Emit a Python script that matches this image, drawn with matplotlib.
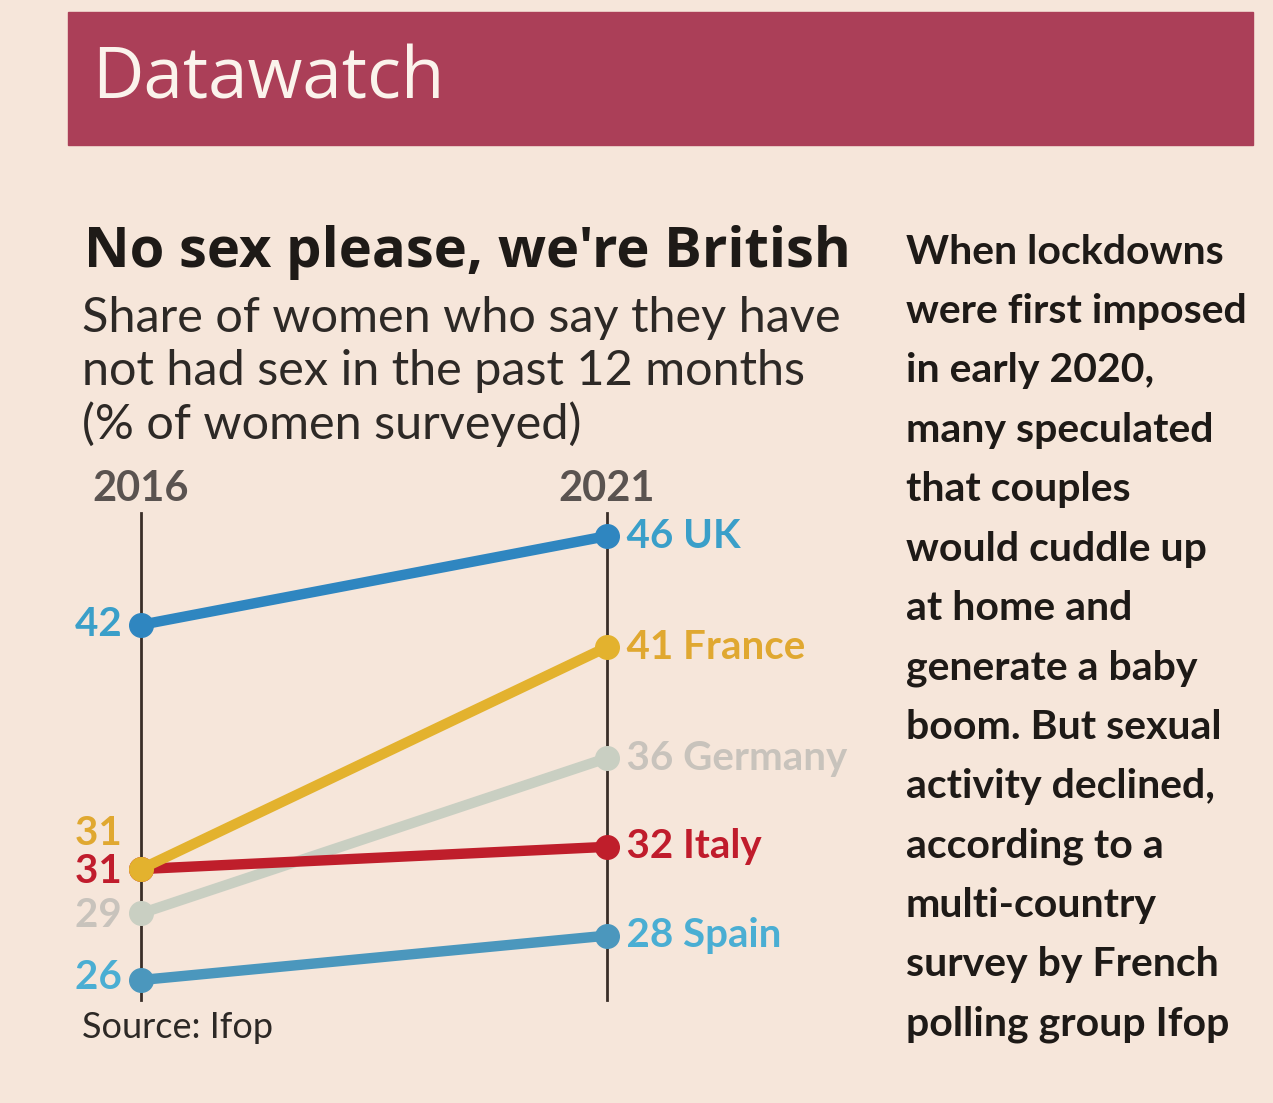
import matplotlib.pyplot as plt
from matplotlib.patches import Rectangle

# data
countries = ['UK', 'France', 'Germany', 'Italy', 'Spain']
v2016 = [42, 31, 29, 31, 26]
v2021 = [46, 41, 36, 32, 28]
years = [2016, 2021]
line_cols = ['#2f86c0', '#e3b22e', '#c9cfc2', '#bf1e2b', '#4b97bd']
text_cols = ['#3a9fc9', '#e0a830', '#c8c3bc', '#c01c2c', '#4aaed3']
left_lbls = ['42', '31', '29', '31', '26']
# label y positions (data units) where labels are nudged apart
left_pos = [42, 32.6, 28.9, 30.9, 26.1]

W, H = 1273, 1103
BG = '#f6e6da'
plt.rcParams['font.family'] = ['Lato', 'DejaVu Sans']

fig = plt.figure(figsize=(W / 100, H / 100), dpi=100, facecolor=BG)

def fx(px):
    return px / W

def fy(py):
    return 1 - py / H

# header bar
fig.patches.append(Rectangle((fx(68), fy(145)), fx(1253) - fx(68), fy(12) - fy(145),
                             transform=fig.transFigure, color='#ab3f58', zorder=0))
fig.text(fx(92), fy(80), 'Datawatch', color='#fbf3ec', fontsize=51,
         va='center', ha='left', family='Open Sans')

fig.text(fx(84), fy(252), "No sex please, we're British", fontsize=40.5, weight='bold',
         color='#1e1a17', va='center', family='Open Sans')
sub = ['Share of women who say they have', 'not had sex in the past 12 months',
       '(% of women surveyed)']
for i, s in enumerate(sub):
    fig.text(fx(82), fy(318 + i * 53), s, fontsize=35, color='#2d2926', va='center')

body = ['When lockdowns', 'were first imposed', 'in early 2020,', 'many speculated',
        'that couples', 'would cuddle up', 'at home and', 'generate a baby',
        'boom. But sexual', 'activity declined,', 'according to a',
        'multi-country', 'survey by French', 'polling group Ifop']
for i, s in enumerate(body):
    fig.text(fx(906), fy(252 + i * 59.4), s, fontsize=29.5, weight='bold',
             color='#1e1a17', va='center')

fig.text(fx(82), fy(1028), 'Source: Ifop', fontsize=26, color='#2d2926', va='center')

# chart
ax = fig.add_axes([fx(141), fy(1000), fx(607) - fx(141), fy(513) - fy(1000)])
ax.set_facecolor('none')
ax.set_xlim(2016, 2021)
ax.set_ylim(25.1, 47.04)
for sp in ['top', 'bottom']:
    ax.spines[sp].set_visible(False)
for sp in ['left', 'right']:
    ax.spines[sp].set_color('#3a2e28')
    ax.spines[sp].set_linewidth(2)
ax.set_xticks([])
ax.set_yticks([])

order = [2, 4, 3, 1, 0]
for i in order:
    ax.plot(years, [v2016[i], v2021[i]], color=line_cols[i], lw=7.5,
            solid_capstyle='round', marker='o', ms=17, clip_on=False, zorder=3)
for i in range(len(countries)):
    ax.text(2016, left_pos[i], left_lbls[i] + '  ', color=text_cols[i], fontsize=29,
            weight='bold', ha='right', va='center')
    ax.text(2021, v2021[i], '  %d %s' % (v2021[i], countries[i]), color=text_cols[i],
            fontsize=29, weight='bold', ha='left', va='center')
ax.text(2016, 1.05, '2016', transform=ax.get_xaxis_transform(), ha='center', va='center',
        fontsize=30, weight='bold', color='#5a5350')
ax.text(2021, 1.05, '2021', transform=ax.get_xaxis_transform(), ha='center', va='center',
        fontsize=30, weight='bold', color='#5a5350')

fig.savefig('out.png', dpi=100, facecolor=BG)
